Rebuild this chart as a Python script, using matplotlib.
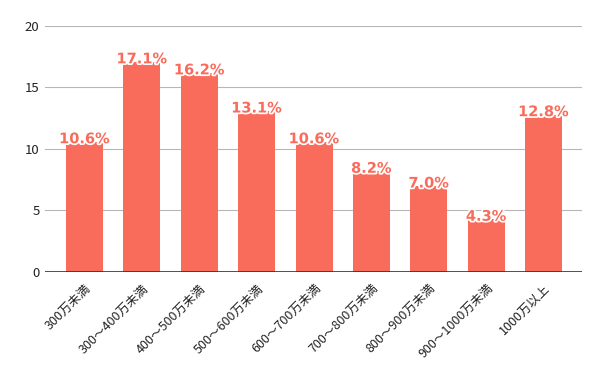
import matplotlib
matplotlib.use("Agg")
import matplotlib.pyplot as plt
import matplotlib.patheffects as pe

categories = ["300万未満", "300～400万未満", "400～500万未満", "500～600万未満",
              "600～700万未満", "700～800万未満", "800～900万未満", "900～1000万未満", "1000万以上"]
values = [10.6, 17.1, 16.2, 13.1, 10.6, 8.2, 7.0, 4.3, 12.8]
labels = ["10.6%", "17.1%", "16.2%", "13.1%", "10.6%", "8.2%", "7.0%", "4.3%", "12.8%"]
yticks = [0, 5, 10, 15, 20]

plt.rcParams['font.family'] = ['Noto Sans CJK JP', 'DejaVu Sans']
color = '#f96b5b'

fig = plt.figure(figsize=(6, 3.71), dpi=100)
ax = fig.add_axes([0.075, 0.267, 0.895, 0.663])
x = list(range(len(categories)))
ax.bar(x, values, width=0.645, color=color, zorder=2)
ax.set_xlim(-0.69, 8.67)
ax.set_ylim(0, 20)
ax.set_yticks(yticks)
ax.yaxis.grid(True, color='#b7b7b7', linewidth=0.8, zorder=0)
ax.axhline(0, color='#333333', linewidth=1.2, zorder=3)
for s in ax.spines.values():
    s.set_visible(False)
ax.tick_params(axis='both', length=0, labelsize=9.5, colors='#222222')
ax.tick_params(axis='y', pad=4)
ax.tick_params(axis='x', pad=7)
ax.set_xticks(x)
ax.set_xticklabels(categories, rotation=45, ha='right', rotation_mode='anchor', fontsize=9)
for xi, v, lab in zip(x, values, labels):
    t = ax.annotate(lab, (xi, v), xytext=(0, -1.2), textcoords='offset points',
                    ha='center', va='baseline', fontsize=10.5, fontweight='bold',
                    color=color, zorder=4, family=['DejaVu Sans'])
    t.set_path_effects([pe.withStroke(linewidth=2.5, foreground='white')])

fig.savefig('out.png', dpi=100)
